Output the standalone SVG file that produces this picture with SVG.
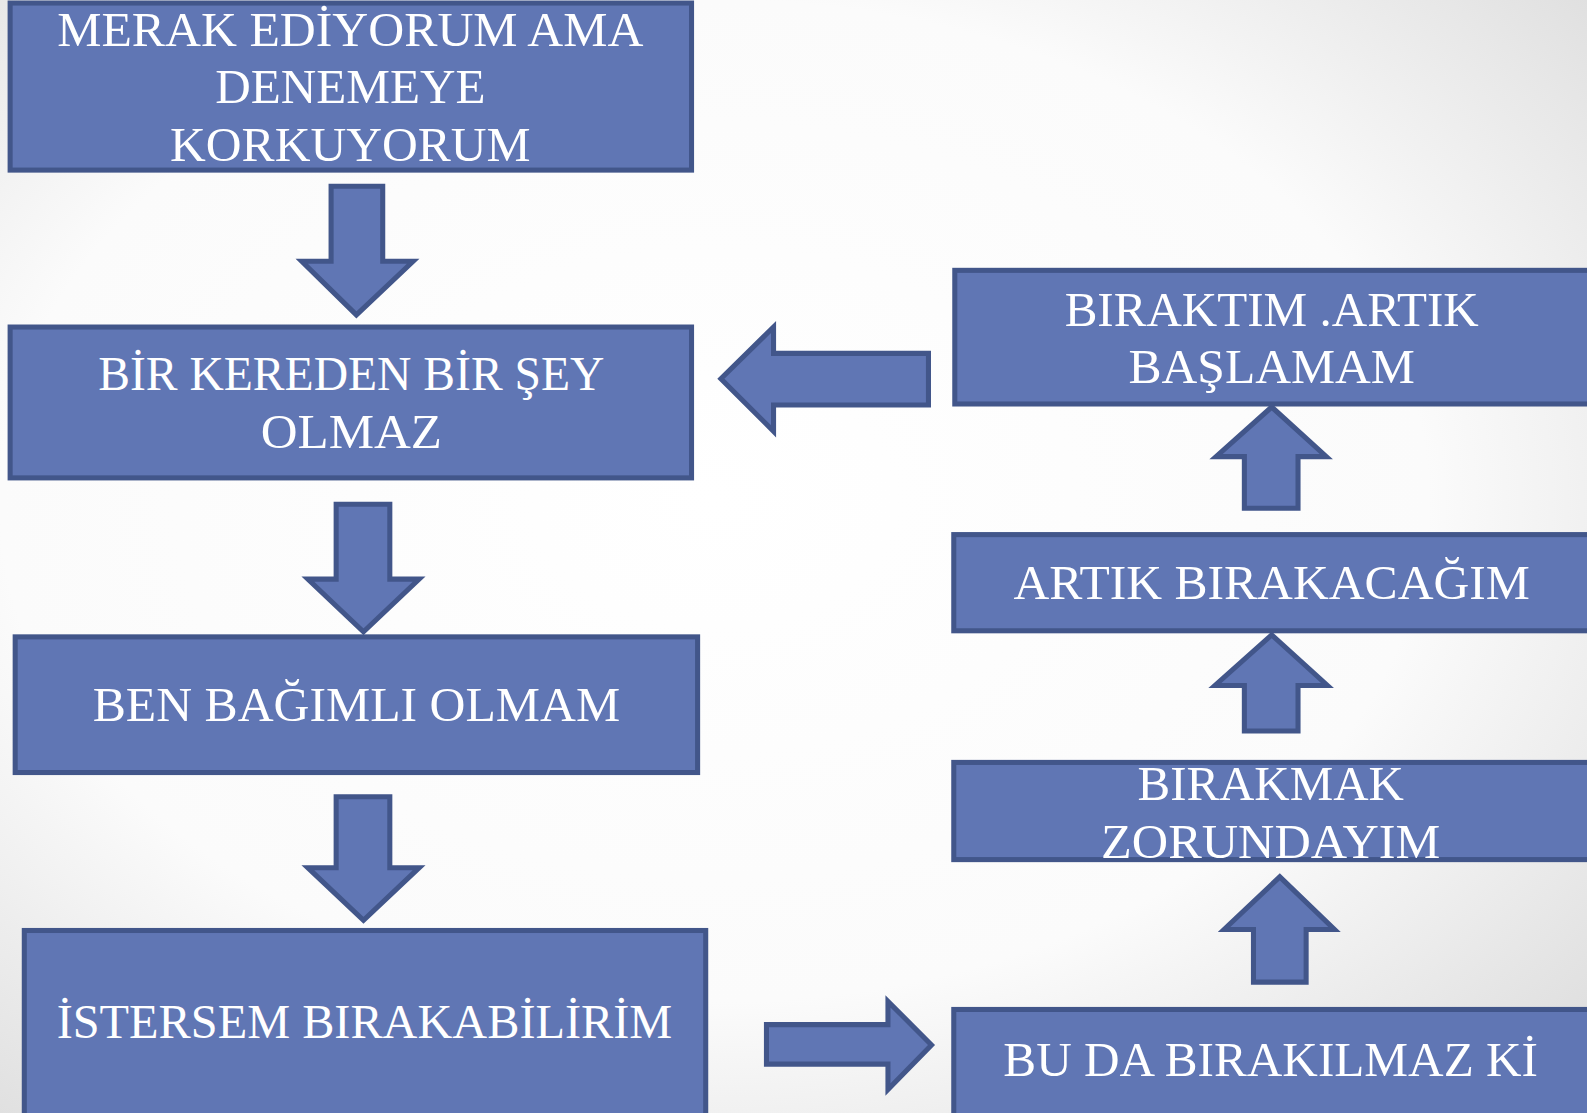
<svg xmlns="http://www.w3.org/2000/svg" width="1587" height="1113" viewBox="0 0 1587 1113">
<defs>
<radialGradient id="bg" cx="0.45" cy="0.45" r="0.75">
<stop offset="0" stop-color="#ffffff"/>
<stop offset="0.6" stop-color="#fbfbfb"/>
<stop offset="1" stop-color="#dcdcdc"/>
</radialGradient>
</defs>
<style>
.box{fill:#6076B4;stroke:#42568A;stroke-width:5}
.arr{fill:#6076B4;stroke:#42568A;stroke-width:5;stroke-linejoin:miter}
.t{font-family:"Liberation Serif","DejaVu Serif",serif;font-size:47px;fill:#ffffff;text-anchor:middle}
</style>
<rect x="0" y="0" width="1587" height="1113" fill="url(#bg)"/>
<g transform="scale(1.0125)">
<g id="connectors">
<path class="arr" d="M327,184 H378 V258 H408 L352,311 L298,258 H327 Z"/>
<path class="arr" d="M332,498 H385 V572 H414 L359,624 L304,572 H332 Z"/>
<path class="arr" d="M332,787 H385 V857 H414 L359,909 L304,857 H332 Z"/>
<path class="arr" d="M917,349 V400 H764 V426 L712,374 L764,323 V349 Z"/>
<path class="arr" d="M757,1012 H877 V989 L920,1032 L877,1076 V1051 H757 Z"/>
<path class="arr" d="M1229,502 V451 H1201 L1256,402 L1310,451 H1282 V502 Z"/>
<path class="arr" d="M1229,722 V677 H1200 L1256,627 L1311,677 H1282 V722 Z"/>
<path class="arr" d="M1238,970 V918 H1209 L1264,866 L1318,918 H1290 V970 Z"/>
</g>

<g id="n1">
<rect class="box" x="10" y="3" width="673" height="165"/>
<text class="t" x="346" y="45" textLength="579" lengthAdjust="spacingAndGlyphs">MERAK EDİYORUM AMA</text>
<text class="t" x="346" y="102" textLength="267" lengthAdjust="spacingAndGlyphs">DENEMEYE</text>
<text class="t" x="346" y="159" textLength="356" lengthAdjust="spacingAndGlyphs">KORKUYORUM</text>
</g>
<g id="n2">
<rect class="box" x="10" y="323" width="673" height="149"/>
<text class="t" x="347" y="385" textLength="500" lengthAdjust="spacingAndGlyphs">BİR KEREDEN BİR ŞEY</text>
<text class="t" x="347" y="442" textLength="179" lengthAdjust="spacingAndGlyphs">OLMAZ</text>
</g>
<g id="n3">
<rect class="box" x="15" y="629" width="674" height="134"/>
<text class="t" x="352" y="712" textLength="521" lengthAdjust="spacingAndGlyphs">BEN BAĞIMLI OLMAM</text>
</g>
<g id="n4">
<rect class="box" x="24" y="919" width="673" height="194"/>
<text class="t" x="360" y="1025" textLength="608" lengthAdjust="spacingAndGlyphs">İSTERSEM BIRAKABİLİRİM</text>
</g>
<g id="n5">
<rect class="box" x="943" y="267" width="643" height="132"/>
<text class="t" x="1256" y="322" textLength="409" lengthAdjust="spacingAndGlyphs">BIRAKTIM .ARTIK</text>
<text class="t" x="1256" y="378" textLength="283" lengthAdjust="spacingAndGlyphs">BAŞLAMAM</text>
</g>
<g id="n6">
<rect class="box" x="942" y="528" width="644" height="95"/>
<text class="t" x="1256" y="592" textLength="510" lengthAdjust="spacingAndGlyphs">ARTIK BIRAKACAĞIM</text>
</g>
<g id="n7">
<rect class="box" x="942" y="753" width="644" height="96"/>
<text class="t" x="1255" y="790" textLength="263" lengthAdjust="spacingAndGlyphs">BIRAKMAK</text>
<text class="t" x="1255" y="847" textLength="335" lengthAdjust="spacingAndGlyphs">ZORUNDAYIM</text>
</g>
<g id="n8">
<rect class="box" x="942" y="997" width="644" height="116"/>
<text class="t" x="1255" y="1063" textLength="528" lengthAdjust="spacingAndGlyphs">BU DA BIRAKILMAZ Kİ</text>
</g>
</g>
</svg>
